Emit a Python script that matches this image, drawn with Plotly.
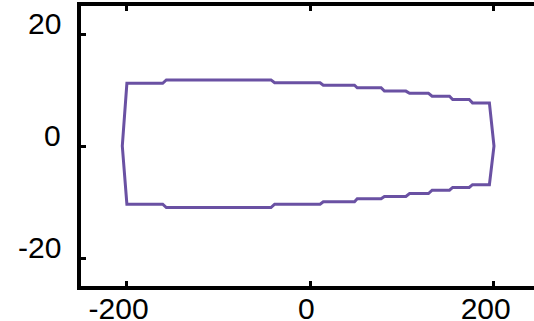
import plotly.graph_objects as go

# Stations along the chord (x) and the upper / lower outline heights (y)
station_x = [-200, -161, -157, -43, -39, 10.5, 14, 48, 51, 77, 80.6, 104, 108,
             128.6, 132.6, 151.5, 155, 173, 176.6, 195]
upper_y = [11.2, 11.2, 11.8, 11.8, 11.3, 11.3, 10.85, 10.85, 10.4, 10.4, 9.8, 9.8,
           9.4, 9.4, 8.9, 8.9, 8.3, 8.3, 7.7, 7.7]
lower_y = [-10.4, -10.4, -11.0, -11.0, -10.4, -10.4, -9.95, -9.95, -9.4, -9.4, -9.0,
           -9.0, -8.5, -8.5, -7.9, -7.9, -7.4, -7.4, -6.9, -6.9]
nose_x, nose_y = -205, 0
tail_x, tail_y = 200, 0

x_tick_vals = [-200, 0, 200]
x_tick_text = ["-200\u00a0\u00a0", "0\u00a0", "200\u00a0\u00a0"]
y_tick_vals = [-20, 0, 20]
y_tick_text = ["-20", "0", "20"]

xs = [nose_x] + station_x + [tail_x] + station_x[::-1] + [nose_x]
ys = [nose_y] + upper_y + [tail_y] + lower_y[::-1] + [nose_y]

fig = go.Figure()
fig.add_trace(go.Scatter(x=xs, y=ys, mode="lines",
                         line=dict(color="#6a51a3", width=3),
                         showlegend=False, hoverinfo="skip"))

font = dict(family="Liberation Sans, Arial, Helvetica, sans-serif", size=30, color="black")
common = dict(showgrid=False, zeroline=False, ticks="inside", ticklen=5, tickwidth=2.5,
              tickcolor="black", tickfont=font, automargin=False)

fig.update_layout(
    width=534, height=321,
    margin=dict(l=81, r=0, t=6, b=35),
    paper_bgcolor="white", plot_bgcolor="white",
    xaxis=dict(range=[-250, 243.6], tickvals=x_tick_vals, ticktext=x_tick_text,
               showline=True, linewidth=3.5, linecolor="black", mirror="ticks",
               ticklabelstandoff=-7, **common),
    yaxis=dict(range=[-25, 25], tickvals=y_tick_vals, showticklabels=False,
               showline=True, linewidth=3.5, linecolor="black", **common),
    yaxis2=dict(range=[-25, 25], overlaying="y", side="right", anchor="x",
                tickvals=y_tick_vals, showticklabels=False, showline=False,
                showgrid=False, zeroline=False, ticks="inside", ticklen=5,
                tickwidth=2.5, tickcolor="black", automargin=False),
)

# y tick labels sit just above their ticks, as in the reference
for v, t in zip(y_tick_vals, y_tick_text):
    fig.add_annotation(x=0, xref="paper", y=v, yref="y", text=t, showarrow=False,
                       xanchor="right", yanchor="middle", xshift=-18, yshift=10.5,
                       font=font)

fig.write_html("out.html",
               config={"displayModeBar": False},
               post_script="document.body.style.margin='0';"
                           "document.body.style.overflow='hidden';")
